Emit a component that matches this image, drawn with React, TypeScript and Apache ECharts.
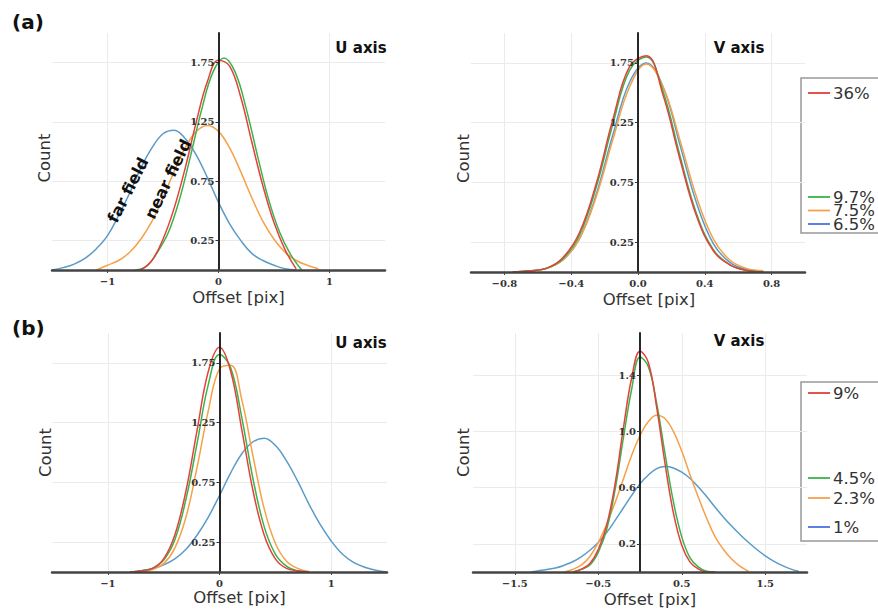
import React, { useEffect, useRef } from 'react';
import * as echarts from 'echarts';

// ---------- (a) U axis ----------
const aU_blueX = [-1.5, -1.4, -1.3, -1.2, -1.1, -1.0, -0.9, -0.8, -0.7, -0.6, -0.5, -0.4, -0.3, -0.2, -0.1, 0.0, 0.1, 0.2, 0.3, 0.4, 0.5, 0.6, 0.7];
const aU_blueY = [0.0, 0.02, 0.05, 0.10, 0.18, 0.29, 0.46, 0.65, 0.86, 1.03, 1.15, 1.18, 1.11, 0.97, 0.78, 0.57, 0.39, 0.25, 0.14, 0.08, 0.04, 0.01, 0.0];
const aU_orangeX = [-1.1, -1.0, -0.9, -0.8, -0.7, -0.6, -0.5, -0.4, -0.3, -0.2, -0.1, 0.0, 0.1, 0.2, 0.3, 0.4, 0.5, 0.6, 0.7, 0.8, 0.9];
const aU_orangeY = [0.0, 0.04, 0.08, 0.15, 0.26, 0.41, 0.61, 0.83, 1.03, 1.17, 1.22, 1.17, 1.03, 0.83, 0.61, 0.41, 0.26, 0.15, 0.08, 0.04, 0.01];
const aU_redX = [-0.7, -0.6, -0.5, -0.4, -0.3, -0.2, -0.1, 0.0, 0.1, 0.2, 0.3, 0.4, 0.5, 0.6, 0.7];
const aU_redY = [0.0, 0.08, 0.26, 0.52, 0.86, 1.25, 1.59, 1.77, 1.72, 1.46, 1.08, 0.71, 0.40, 0.17, 0.01];
const aU_greenX = [-0.75, -0.65, -0.55, -0.45, -0.35, -0.25, -0.15, -0.05, 0.05, 0.15, 0.25, 0.35, 0.45, 0.55, 0.65, 0.75];
const aU_greenY = [0.0, 0.03, 0.15, 0.32, 0.60, 0.97, 1.36, 1.67, 1.79, 1.67, 1.36, 0.97, 0.60, 0.32, 0.13, 0.0];

// ---------- (a) V axis ----------
const aV_x = [-0.75, -0.65, -0.55, -0.45, -0.35, -0.25, -0.15, -0.05, 0.05, 0.15, 0.25, 0.35, 0.45, 0.55, 0.65, 0.75];
const aV_redY = [0.0, 0.01, 0.03, 0.12, 0.33, 0.74, 1.28, 1.72, 1.81, 1.48, 0.95, 0.47, 0.18, 0.06, 0.013, 0.0];
const aV_greenY = [0.0, 0.01, 0.03, 0.11, 0.31, 0.71, 1.24, 1.69, 1.80, 1.51, 0.98, 0.49, 0.19, 0.06, 0.014, 0.0];
const aV_blueY = [0.0, 0.01, 0.03, 0.10, 0.28, 0.65, 1.15, 1.59, 1.75, 1.55, 1.07, 0.58, 0.24, 0.08, 0.02, 0.005];
const aV_orangeY = [0.0, 0.01, 0.03, 0.10, 0.28, 0.63, 1.11, 1.55, 1.74, 1.55, 1.11, 0.63, 0.28, 0.10, 0.03, 0.01];

// ---------- (b) U axis ----------
const bU_x = [-0.8, -0.7, -0.6, -0.5, -0.4, -0.3, -0.2, -0.1, 0.0, 0.1, 0.2, 0.3, 0.4, 0.5, 0.6, 0.7, 0.8];
const bU_redY = [0.0, 0.01, 0.03, 0.11, 0.31, 0.68, 1.19, 1.68, 1.88, 1.68, 1.19, 0.68, 0.31, 0.11, 0.03, 0.01, 0.0];
const bU_greenY = [0.0, 0.01, 0.03, 0.10, 0.27, 0.61, 1.08, 1.57, 1.82, 1.71, 1.29, 0.78, 0.38, 0.15, 0.05, 0.01, 0.0];
const bU_orangeY = [0.0, 0.0, 0.02, 0.07, 0.20, 0.46, 0.88, 1.35, 1.70, 1.73, 1.44, 0.97, 0.53, 0.24, 0.09, 0.03, 0.005];
const bU_blueX = [-0.8, -0.7, -0.6, -0.5, -0.4, -0.3, -0.2, -0.1, 0.0, 0.1, 0.2, 0.3, 0.4, 0.5, 0.6, 0.7, 0.8, 0.9, 1.0, 1.1, 1.2, 1.3, 1.4, 1.5];
const bU_blueY = [0.0, 0.01, 0.03, 0.06, 0.11, 0.19, 0.31, 0.46, 0.64, 0.83, 0.99, 1.09, 1.12, 1.06, 0.93, 0.76, 0.57, 0.40, 0.26, 0.15, 0.08, 0.04, 0.015, 0.0];

// ---------- (b) V axis ----------
const bV_x = [-0.8, -0.7, -0.6, -0.5, -0.4, -0.3, -0.2, -0.1, 0.0, 0.1, 0.2, 0.3, 0.4, 0.5, 0.6, 0.7, 0.8, 0.9];
const bV_redY = [0.0, 0.02, 0.06, 0.16, 0.33, 0.62, 1.02, 1.38, 1.57, 1.49, 1.17, 0.77, 0.42, 0.19, 0.07, 0.02, 0.0, 0.0];
const bV_greenY = [0.0, 0.02, 0.05, 0.14, 0.30, 0.58, 0.95, 1.30, 1.53, 1.46, 1.20, 0.84, 0.50, 0.25, 0.10, 0.035, 0.005, 0.0];
const bV_orangeX = [-0.9, -0.8, -0.7, -0.6, -0.5, -0.4, -0.3, -0.2, -0.1, 0.0, 0.1, 0.2, 0.3, 0.4, 0.5, 0.6, 0.7, 0.8, 0.9, 1.0, 1.1, 1.2, 1.3];
const bV_orangeY = [0.0, 0.02, 0.05, 0.11, 0.21, 0.34, 0.49, 0.66, 0.83, 0.97, 1.07, 1.115, 1.09, 1.0, 0.86, 0.69, 0.53, 0.38, 0.25, 0.16, 0.09, 0.04, 0.005];
const bV_blueX = [-1.3, -1.2, -1.1, -1.0, -0.9, -0.8, -0.7, -0.6, -0.5, -0.4, -0.3, -0.2, -0.1, 0.0, 0.1, 0.2, 0.3, 0.4, 0.5, 0.6, 0.7, 0.8, 0.9, 1.0, 1.1, 1.2, 1.3, 1.4, 1.5, 1.6, 1.7, 1.8, 1.9];
const bV_blueY = [0.0, 0.01, 0.02, 0.03, 0.05, 0.075, 0.11, 0.155, 0.21, 0.28, 0.365, 0.455, 0.545, 0.627, 0.69, 0.735, 0.75, 0.74, 0.71, 0.665, 0.605, 0.535, 0.46, 0.39, 0.325, 0.265, 0.21, 0.16, 0.115, 0.078, 0.047, 0.022, 0.005];

// ---------- ticks & names ----------
const ticksU = [-1, 0, 1];
const ticksAV = [-0.8, -0.4, 0, 0.4, 0.8];
const ticksBV = [-1.5, -0.5, 0.5, 1.5];
const ticksCountA = [0.25, 0.75, 1.25, 1.75];
const ticksCountBV = [0.2, 0.6, 1.0, 1.4];
const topNames = ['36%', '9.7%', '7.5%', '6.5%'];
const bottomNames = ['9%', '4.5%', '2.3%', '1%'];

const C = { red: '#e4403c', green: '#3cb34a', orange: '#f6a04a', blue: '#5a9bc8' };
const LEG_BLUE = '#4a72e0';

const pairs = (xs: number[], ys: number[]) => xs.map((x, i) => [x, ys[i]]);

const fmt = (dec: number) => (v: number) => {
  const s = dec >= 0 ? Math.abs(v).toFixed(dec) : String(Math.abs(v));
  return v < 0 ? '\u2212' + s : s;
};

const tickFont = { fontFamily: 'DejaVu Serif', fontWeight: 'bold' as const, fontSize: 10, color: '#333' };
const nameFont = { fontFamily: 'DejaVu Sans', fontSize: 16.5, color: '#333' };
const gridLine = { show: true, lineStyle: { color: '#ebebeb', width: 1 } };

function mkX(gi: number, min: number, max: number, ticks: number[], dec: number, gap: number, padL: number) {
  return {
    type: 'value', gridIndex: gi, min, max, z: 5, position: 'bottom',
    name: 'Offset [pix]', nameLocation: 'middle', nameGap: gap,
    nameTextStyle: { ...nameFont, padding: [0, 0, 0, padL] },
    axisLine: { show: true, onZero: false, lineStyle: { color: '#444', width: 2.5 } },
    axisTick: { show: true, length: 3, customValues: ticks, lineStyle: { color: '#444' } },
    axisLabel: { customValues: ticks, formatter: fmt(dec), margin: 6, ...tickFont },
    splitLine: { show: false },
  };
}

// background axis: only draws the faint grid lines under the curves
function gridX(gi: number, min: number, max: number, ticks: number[]) {
  return {
    type: 'value', gridIndex: gi, min, max, z: 0, position: 'top',
    axisLine: { show: false }, axisTick: { show: false, customValues: ticks },
    axisLabel: { show: false, customValues: ticks }, splitLine: gridLine,
  };
}

function mkY(gi: number, min: number, max: number, ticks: number[], dec: number, offset: number, gap: number, padR: number) {
  return {
    type: 'value', gridIndex: gi, min, max, z: 5, position: 'left', offset,
    name: 'Count', nameLocation: 'middle', nameGap: gap, nameRotate: 90,
    nameTextStyle: { ...nameFont, padding: [0, padR, 0, 0] },
    axisLine: { show: true, onZero: false, lineStyle: { color: '#111', width: 1.8 } },
    axisTick: { show: true, length: 3, customValues: ticks, lineStyle: { color: '#333' } },
    axisLabel: { customValues: ticks, formatter: fmt(dec), margin: 4, ...tickFont },
    splitLine: { show: false },
  };
}

function gridY(gi: number, min: number, max: number, ticks: number[]) {
  return {
    type: 'value', gridIndex: gi, min, max, z: 0, position: 'right',
    axisLine: { show: false }, axisTick: { show: false, customValues: ticks },
    axisLabel: { show: false, customValues: ticks }, splitLine: gridLine,
  };
}

function mkLine(name: string, xs: number[], ys: number[], color: string, gi: number) {
  return {
    type: 'line', name, xAxisIndex: gi, yAxisIndex: gi, data: pairs(xs, ys),
    smooth: 0.4, symbol: 'none', showSymbol: false, silent: true, z: 2,
    lineStyle: { color, width: 1.5 }, itemStyle: { color },
  };
}

function mkLegend(name: string, top: number, color: string) {
  return {
    data: [{ name, icon: 'rect', itemStyle: { color } }],
    left: 808, top, padding: 0, itemWidth: 22, itemHeight: 1.8, itemGap: 0,
    selectedMode: false,
    textStyle: { fontFamily: 'DejaVu Sans', fontSize: 16.5, color: '#333', padding: [0, 0, 0, -2] },
  };
}

const gridBase = { outerBoundsMode: 'none', containLabel: false };
const panelTitle = { fontFamily: 'DejaVu Sans', fontSize: 15, fontWeight: 'bold', color: '#111' };
const letterTitle = { fontFamily: 'DejaVu Sans', fontSize: 20, fontWeight: 'bold', color: '#111' };

const option = {
  animation: false,
  backgroundColor: '#ffffff',
  title: [
    { text: '(a)', left: 12, top: 12, padding: 0, textStyle: letterTitle },
    { text: '(b)', left: 12, top: 318, padding: 0, textStyle: letterTitle },
    { text: 'U axis', left: 361, top: 40, textAlign: 'center', padding: 0, textStyle: panelTitle },
    { text: 'V axis', left: 739, top: 40, textAlign: 'center', padding: 0, textStyle: panelTitle },
    { text: 'U axis', left: 361, top: 335, textAlign: 'center', padding: 0, textStyle: panelTitle },
    { text: 'V axis', left: 739, top: 333, textAlign: 'center', padding: 0, textStyle: panelTitle },
  ],
  grid: [
    { ...gridBase, left: 52, top: 33, width: 333, height: 237 },
    { ...gridBase, left: 471, top: 33, width: 334, height: 239 },
    { ...gridBase, left: 52, top: 333, width: 335, height: 239 },
    { ...gridBase, left: 473, top: 333, width: 334, height: 239 },
  ],
  xAxis: [
    mkX(0, -1.5, 1.5, ticksU, -1, 19, 40),
    mkX(1, -1, 1, ticksAV, 1, 19, 22),
    mkX(2, -1.5, 1.5, ticksU, -1, 17, 40),
    mkX(3, -2, 2, ticksBV, 1, 19, 20),
    gridX(0, -1.5, 1.5, ticksU),
    gridX(1, -1, 1, ticksAV),
    gridX(2, -1.5, 1.5, ticksU),
    gridX(3, -2, 2, ticksBV),
  ],
  yAxis: [
    mkY(0, 0, 2, ticksCountA, 2, -166.5, 166, 13),
    mkY(1, 0, 2, ticksCountA, 2, -167, 166, 12),
    mkY(2, 0, 2, ticksCountA, 2, -167.5, 166, 0),
    mkY(3, 0, 1.7, ticksCountBV, 1, -167, 168, 0),
    gridY(0, 0, 2, ticksCountA),
    gridY(1, 0, 2, ticksCountA),
    gridY(2, 0, 2, ticksCountA),
    gridY(3, 0, 1.7, ticksCountBV),
  ],
  legend: [
    mkLegend(topNames[0], 84.5, C.red),
    mkLegend(topNames[1], 188.5, C.green),
    mkLegend(topNames[2], 202, C.orange),
    mkLegend(topNames[3], 215.5, LEG_BLUE),
    mkLegend(bottomNames[0], 384.5, C.red),
    mkLegend(bottomNames[1], 469.5, C.green),
    mkLegend(bottomNames[2], 489.5, C.orange),
    mkLegend(bottomNames[3], 518.5, LEG_BLUE),
  ],
  graphic: [
    { type: 'rect', shape: { x: 801, y: 78, width: 100, height: 155 }, style: { fill: 'none', stroke: '#999', lineWidth: 1.5 }, silent: true },
    { type: 'rect', shape: { x: 801, y: 382, width: 100, height: 159 }, style: { fill: 'none', stroke: '#999', lineWidth: 1.5 }, silent: true },
    {
      type: 'text', x: 128, y: 190, rotation: 1.1, silent: true, z: 10,
      style: { text: 'far field', fontFamily: 'DejaVu Sans', fontWeight: 'bold', fontSize: 16, fill: '#111', align: 'center', verticalAlign: 'middle' },
    },
    {
      type: 'text', x: 168, y: 179, rotation: 1.12, silent: true, z: 10,
      style: { text: 'near field', fontFamily: 'DejaVu Sans', fontWeight: 'bold', fontSize: 16, fill: '#111', align: 'center', verticalAlign: 'middle' },
    },
  ],
  series: [
    mkLine(topNames[3], aU_blueX, aU_blueY, C.blue, 0),
    mkLine(topNames[2], aU_orangeX, aU_orangeY, C.orange, 0),
    mkLine(topNames[1], aU_greenX, aU_greenY, C.green, 0),
    mkLine(topNames[0], aU_redX, aU_redY, C.red, 0),

    mkLine(topNames[3], aV_x, aV_blueY, C.blue, 1),
    mkLine(topNames[2], aV_x, aV_orangeY, C.orange, 1),
    mkLine(topNames[1], aV_x, aV_greenY, C.green, 1),
    mkLine(topNames[0], aV_x, aV_redY, C.red, 1),

    mkLine(bottomNames[3], bU_blueX, bU_blueY, C.blue, 2),
    mkLine(bottomNames[2], bU_x, bU_orangeY, C.orange, 2),
    mkLine(bottomNames[1], bU_x, bU_greenY, C.green, 2),
    mkLine(bottomNames[0], bU_x, bU_redY, C.red, 2),

    mkLine(bottomNames[3], bV_blueX, bV_blueY, C.blue, 3),
    mkLine(bottomNames[2], bV_orangeX, bV_orangeY, C.orange, 3),
    mkLine(bottomNames[1], bV_x, bV_greenY, C.green, 3),
    mkLine(bottomNames[0], bV_x, bV_redY, C.red, 3),
  ],
};

export default function App() {
  const ref = useRef<HTMLDivElement>(null);
  useEffect(() => {
    if (!ref.current) return;
    const chart = echarts.init(ref.current, null, { renderer: 'svg' });
    chart.setOption(option as any);
    return () => chart.dispose();
  }, []);
  return <div ref={ref} style={{ position: 'absolute', left: 0, top: 0, width: 878, height: 611 }} />;
}
